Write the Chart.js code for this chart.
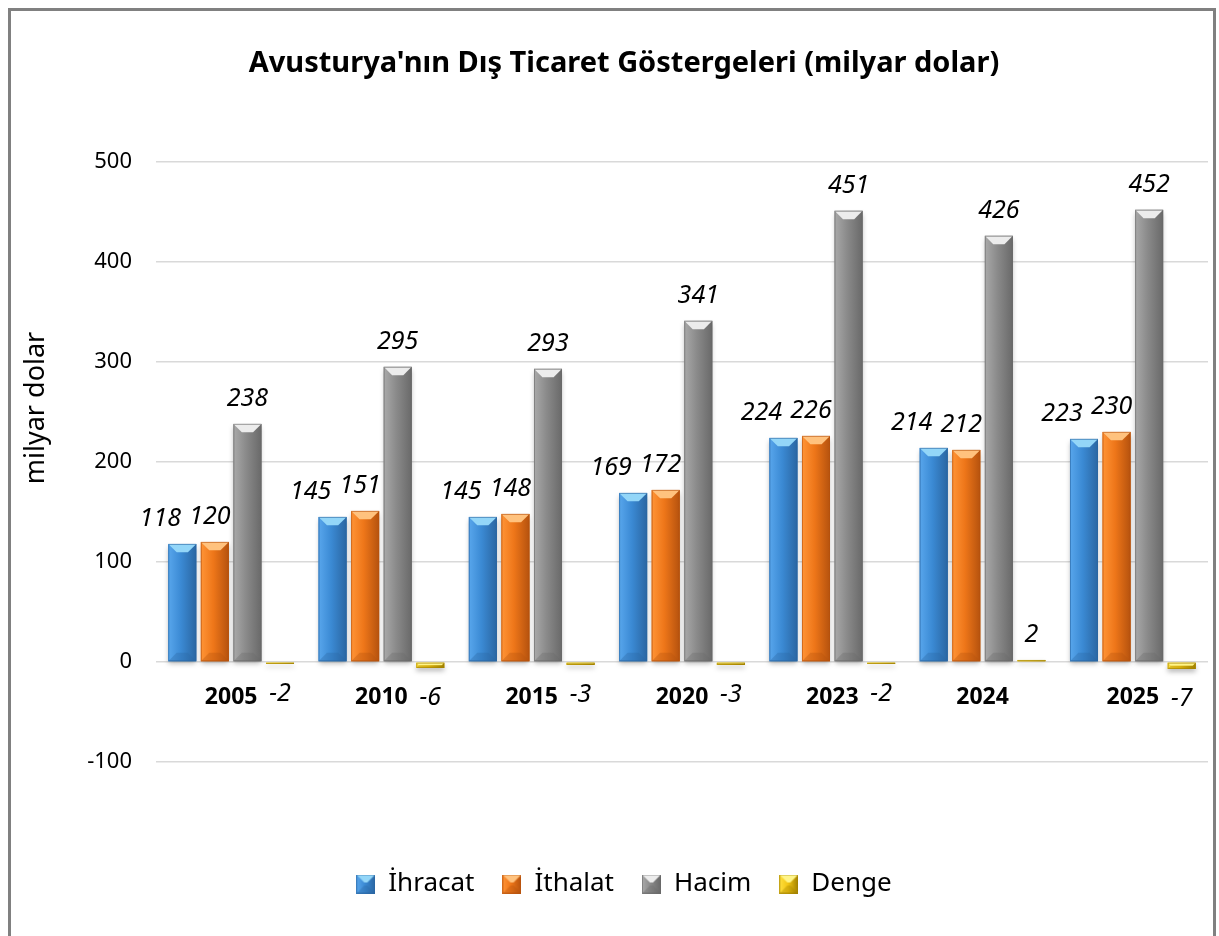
<!DOCTYPE html>
<html>
<head>
<meta charset="utf-8">
<script src="https://cdn.jsdelivr.net/npm/chart.js@4.4.1/dist/chart.umd.min.js"></script>
<style>
  html, body { margin: 0; padding: 0; background: #fff; overflow: hidden; }
  #wrap { position: relative; width: 1219px; height: 936px; }
  #frame { position: absolute; left: 8px; top: 8px; width: 1208px; height: 960px; border: 3px solid #808080; box-sizing: border-box; }
  canvas { position: absolute; left: 0; top: 0; }
</style>
</head>
<body>
<div id="wrap">
  <div id="frame"></div>
  <canvas id="chart" width="1219" height="936"></canvas>
</div>
<script>
const years = ['2005', '2010', '2015', '2020', '2023', '2024', '2025']
const ihracat = [118, 145, 145, 169, 224, 214, 223]
const ithalat = [120, 151, 148, 172, 226, 212, 230]
const hacim = [238, 295, 293, 341, 451, 426, 452]
const denge = [-2, -6, -3, -3, -2, 2, -7]
const seriesNames = ['İhracat', 'İthalat', 'Hacim', 'Denge']
const yMin = -100, yMax = 500, yStep = 100

const FONT = '"Noto Sans", "Open Sans", sans-serif'

// renk paleti: gövde, açık kenar, koyu kenar, üst yüzey
const PAL = [
  { base: '#3b8ad4', light: '#58a6ec', dark: '#2a66a2', top: '#93d6f8' },
  { base: '#ee7619', light: '#ff9436', dark: '#b5520e', top: '#ffc27e' },
  { base: '#8a8a8a', light: '#a9a9a9', dark: '#696969', top: '#ececec' },
  { base: '#f3c614', light: '#ffe040', dark: '#a08000', top: '#fff58a' },
]
const labelDx = [-22, -5, 0, 0]

function drawBevel(ctx, l, r, t, b, p, shadow, depth) {
  const w = r - l, h = b - t
  if (h <= 0) return
  const d = depth || Math.min(w * 0.3, h / 2, 9)
  ctx.save()
  if (shadow) {
    ctx.shadowColor = 'rgba(0,0,0,0.28)'
    ctx.shadowBlur = 5
    ctx.shadowOffsetY = 3
  }
  const g = ctx.createLinearGradient(l, 0, r, 0)
  g.addColorStop(0, p.light)
  g.addColorStop(0.45, p.base)
  g.addColorStop(1, p.dark)
  ctx.fillStyle = g
  ctx.fillRect(l, t, w, h)
  ctx.restore()
  ctx.save()
  // üst yüzey
  ctx.beginPath()
  ctx.moveTo(l, t); ctx.lineTo(r, t); ctx.lineTo(r - d, t + d); ctx.lineTo(l + d, t + d); ctx.closePath()
  ctx.fillStyle = p.top
  ctx.fill()
  // alt yüzey
  ctx.beginPath()
  ctx.moveTo(l, b); ctx.lineTo(r, b); ctx.lineTo(r - d, b - d); ctx.lineTo(l + d, b - d); ctx.closePath()
  ctx.globalAlpha = 0.35
  ctx.fillStyle = p.dark
  ctx.fill()
  ctx.globalAlpha = 0.6
  ctx.strokeStyle = p.dark
  ctx.lineWidth = 1
  ctx.strokeRect(l + 0.5, t + 0.5, w - 1, h - 1)
  ctx.restore()
}

function legendIcon(p) {
  const c = document.createElement('canvas')
  c.width = 19; c.height = 19
  drawBevel(c.getContext('2d'), 0, 19, 0, 19, p, false, 8)
  return c
}
const icons = PAL.map(legendIcon)

const bevelBars = {
  id: 'bevelBars',
  afterDatasetsDraw(chart) {
    const ctx = chart.ctx
    chart.data.datasets.forEach((ds, i) => {
      chart.getDatasetMeta(i).data.forEach(bar => {
        const { x, y, base, width } = bar.getProps(['x', 'y', 'base', 'width'], true)
        drawBevel(ctx, x - width / 2, x + width / 2, Math.min(y, base), Math.max(y, base), PAL[i], true)
      })
    })
    // değer etiketleri
    ctx.save()
    ctx.font = 'italic 25px ' + FONT
    ctx.fillStyle = '#000'
    ctx.textAlign = 'center'
    ctx.textBaseline = 'middle'
    chart.data.datasets.forEach((ds, i) => {
      chart.getDatasetMeta(i).data.forEach((bar, j) => {
        const v = ds.data[j]
        const ty = v >= 0 ? bar.y - 25 : bar.y + 30
        ctx.fillText(String(v), bar.x + labelDx[i], ty)
      })
    })
    ctx.restore()
  },
  afterDraw(chart) {
    const ctx = chart.ctx
    ctx.save()
    ctx.translate(36, 408)
    ctx.rotate(-Math.PI / 2)
    ctx.font = '27px ' + FONT
    ctx.fillStyle = '#000'
    ctx.textAlign = 'center'
    ctx.textBaseline = 'middle'
    ctx.fillText('milyar dolar', 0, 0)
    ctx.restore()
  }
}

new Chart(document.getElementById('chart'), {
  type: 'bar',
  data: {
    labels: years,
    datasets: [ihracat, ithalat, hacim, denge].map((d, i) => ({
      label: seriesNames[i],
      data: d,
      backgroundColor: PAL[i].base,
      borderWidth: 0,
      categoryPercentage: 0.867,
      barPercentage: 0.86,
    })),
  },
  options: {
    responsive: false,
    animation: false,
    layout: { padding: { left: 40, right: 11, top: 0, bottom: 29 } },
    plugins: {
      title: {
        display: true,
        text: "Avusturya'nın Dış Ticaret Göstergeleri (milyar dolar)",
        color: '#000',
        font: { family: FONT, size: 29, weight: 'bold' },
        padding: { top: 46, bottom: 81 },
      },
      legend: {
        position: 'bottom',
        labels: {
          color: '#000',
          font: { family: FONT, size: 26 },
          usePointStyle: true,
          boxWidth: 19,
          boxHeight: 19,
          padding: 28,
          generateLabels(chart) {
            const items = Chart.defaults.plugins.legend.labels.generateLabels(chart)
            items.forEach((it, i) => { it.pointStyle = icons[i] })
            return items
          },
        },
      },
      tooltip: { enabled: false },
    },
    scales: {
      x: {
        position: { y: 0 },
        grid: { display: false },
        border: { display: false },
        ticks: { color: '#000', font: { family: FONT, size: 23, weight: 'bold' }, padding: 14 },
      },
      gap: {
        type: 'category',
        position: 'bottom',
        grid: { display: false },
        border: { display: false },
        ticks: { display: false },
        afterFit(scale) { scale.height = 81 },
      },
      y: {
        min: yMin,
        max: yMax,
        ticks: { stepSize: yStep, color: '#000', font: { family: FONT, size: 22 }, padding: 24 },
        grid: { color: '#d9d9d9', lineWidth: 1.5, drawTicks: false },
        border: { display: false },
        afterFit(scale) { scale.width = 116 },
      },
    },
  },
  plugins: [bevelBars],
})
</script>
</body>
</html>
